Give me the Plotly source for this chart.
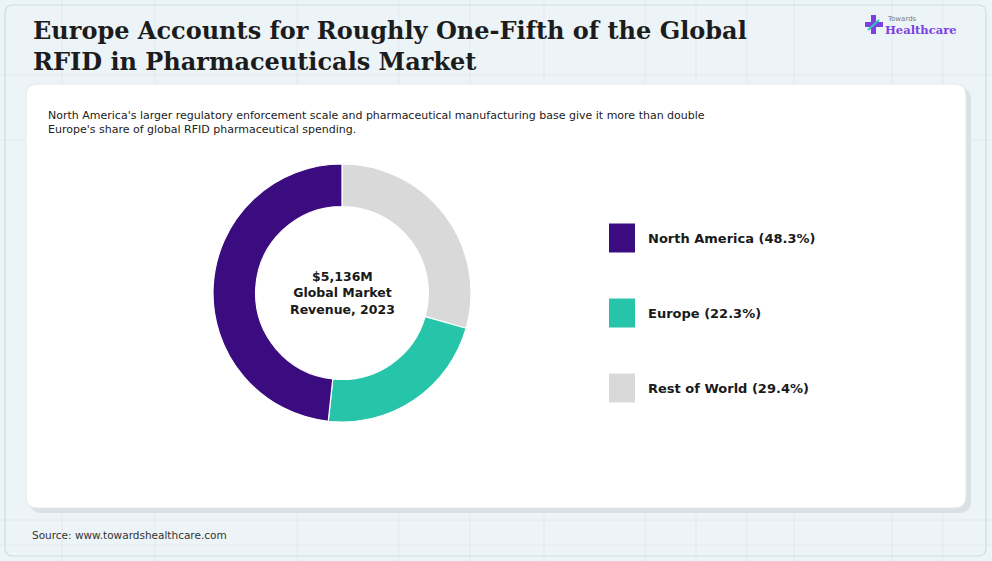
import plotly.graph_objects as go

W, H = 992, 561

regions = ['North America', 'Europe', 'Rest of World']
shares = [48.3, 22.3, 29.4]
colors = ['#3b0c7f', '#26c4a8', '#d9d9d9']
total_label = '$5,136M'
center_lines = ['Global Market', 'Revenue, 2023']

title_text = ('Europe Accounts for Roughly One-Fifth of the Global<br>'
              'RFID in Pharmaceuticals Market')
subtitle_text = ("North America's larger regulatory enforcement scale and pharmaceutical manufacturing base give it more than double<br>"
                 "Europe's share of global RFID pharmaceutical spending.")
source_text = 'Source: www.towardshealthcare.com'


def px(x):
    return x / W


def py(y):
    return 1 - y / H


def rounded_rect(x0, y0, x1, y1, r):
    # svg path in pixel coords, converted to paper
    pts = [
        f"M {px(x0 + r)} {py(y0)}",
        f"L {px(x1 - r)} {py(y0)}",
        f"Q {px(x1)} {py(y0)} {px(x1)} {py(y0 + r)}",
        f"L {px(x1)} {py(y1 - r)}",
        f"Q {px(x1)} {py(y1)} {px(x1 - r)} {py(y1)}",
        f"L {px(x0 + r)} {py(y1)}",
        f"Q {px(x0)} {py(y1)} {px(x0)} {py(y1 - r)}",
        f"L {px(x0)} {py(y0 + r)}",
        f"Q {px(x0)} {py(y0)} {px(x0 + r)} {py(y0)}",
        "Z",
    ]
    return " ".join(pts)


fig = go.Figure()

# donut - slices fed in reverse so North America sits on the left side
cx, cy, r_out = 342, 293, 129
fig.add_trace(go.Pie(
    labels=regions[::-1],
    values=shares[::-1],
    marker=dict(colors=colors[::-1], line=dict(color='white', width=1.2)),
    hole=0.67,
    sort=False,
    direction='clockwise',
    rotation=0,
    textinfo='none',
    hoverinfo='label+percent',
    showlegend=False,
    domain=dict(x=[px(cx - r_out), px(cx + r_out)],
                y=[py(cy + r_out), py(cy - r_out)]),
))

shapes = []
# page background grid (faint)
for gx in [62, 155, 297, 399, 470, 544, 645, 696, 747, 794, 892, 943]:
    shapes.append(dict(type='line', xref='paper', yref='paper', layer='below',
                       x0=px(gx), x1=px(gx), y0=0, y1=1,
                       line=dict(color='rgba(200,215,225,0.35)', width=1)))
for gy in [75, 140, 520, 545]:
    shapes.append(dict(type='line', xref='paper', yref='paper', layer='below',
                       x0=0, x1=1, y0=py(gy), y1=py(gy),
                       line=dict(color='rgba(200,215,225,0.35)', width=1)))

# outer frame
shapes.append(dict(type='path', xref='paper', yref='paper', layer='below',
                   path=rounded_rect(5, 5, 986, 556, 8),
                   fillcolor='rgba(0,0,0,0)', line=dict(color='#cfdbe2', width=1.2)))
# card shadow + card
shapes.append(dict(type='path', xref='paper', yref='paper', layer='below',
                   path=rounded_rect(30, 88, 971, 513, 12),
                   fillcolor='#d9e1e5', line=dict(width=0)))
shapes.append(dict(type='path', xref='paper', yref='paper', layer='below',
                   path=rounded_rect(26, 84, 966, 508, 12),
                   fillcolor='white', line=dict(color='#e3eaee', width=1)))

annotations = []
# legend
leg_x, leg_y0, leg_gap = 609, 238, 75
for i, (name, val, col) in enumerate(zip(regions, shares, colors)):
    yc = leg_y0 + i * leg_gap
    shapes.append(dict(type='rect', xref='paper', yref='paper',
                       x0=px(leg_x), x1=px(leg_x + 26),
                       y0=py(yc + 14.5), y1=py(yc - 14.5),
                       fillcolor=col, line=dict(width=0)))
    annotations.append(dict(xref='paper', yref='paper', x=px(leg_x + 37), y=py(yc),
                            xanchor='left', yanchor='middle', showarrow=False,
                            text=f'<b>{name} ({val}%)</b>',
                            font=dict(family='DejaVu Sans', size=13, color='#1a1a1a')))

# centre label
annotations.append(dict(xref='paper', yref='paper', x=px(cx), y=py(cy),
                        xanchor='center', yanchor='middle', showarrow=False,
                        text='<b>' + '<br>'.join([total_label] + center_lines) + '</b>',
                        font=dict(family='DejaVu Sans', size=12.5, color='#1a1a1a')))

# title, subtitle, source
annotations.append(dict(xref='paper', yref='paper', x=px(31), y=py(14),
                        xanchor='left', yanchor='top', showarrow=False, align='left',
                        text='<b>' + title_text + '</b>',
                        font=dict(family='DejaVu Serif', size=24, color='#1c1c1c')))
annotations.append(dict(xref='paper', yref='paper', x=px(46), y=py(107),
                        xanchor='left', yanchor='top', showarrow=False, align='left',
                        text=subtitle_text,
                        font=dict(family='DejaVu Sans', size=11, color='#222222')))
annotations.append(dict(xref='paper', yref='paper', x=px(30), y=py(535),
                        xanchor='left', yanchor='middle', showarrow=False,
                        text=source_text,
                        font=dict(family='DejaVu Sans', size=10.5, color='#333333')))

# logo
shapes.append(dict(type='rect', xref='paper', yref='paper',
                   x0=px(871), x1=px(876), y0=py(34), y1=py(15),
                   fillcolor='#7b3fe4', line=dict(width=0)))
shapes.append(dict(type='rect', xref='paper', yref='paper',
                   x0=px(865), x1=px(883), y0=py(27), y1=py(22),
                   fillcolor='#7b3fe4', line=dict(width=0)))
shapes.append(dict(type='line', xref='paper', yref='paper',
                   x0=px(868), x1=px(879), y0=py(30), y1=py(20),
                   line=dict(color='#2ec4b6', width=2)))
annotations.append(dict(xref='paper', yref='paper', x=px(885), y=py(19),
                        xanchor='left', yanchor='middle', showarrow=False,
                        text='Towards',
                        font=dict(family='DejaVu Sans', size=7, color='#777777')))
annotations.append(dict(xref='paper', yref='paper', x=px(883), y=py(30),
                        xanchor='left', yanchor='middle', showarrow=False,
                        text='<b>Healthcare</b>',
                        font=dict(family='DejaVu Serif', size=11.5, color='#7b3fe4')))

fig.update_layout(
    width=W, height=H,
    margin=dict(l=0, r=0, t=0, b=0),
    paper_bgcolor='#edf4f8',
    plot_bgcolor='#edf4f8',
    shapes=shapes,
    annotations=annotations,
)

fig.write_html("out.html", config={'displayModeBar': False},
               post_script="document.body.style.margin='0';")
